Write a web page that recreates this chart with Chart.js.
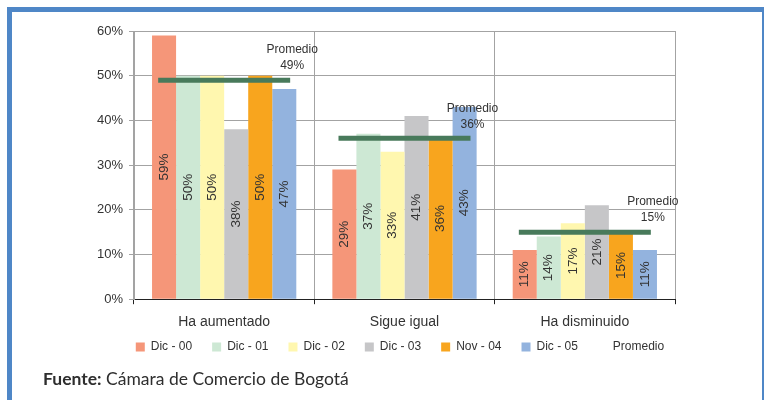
<!DOCTYPE html>
<html lang="es">
<head>
<meta charset="utf-8">
<title>Percepción de la situación económica</title>
<script src="https://cdn.jsdelivr.net/npm/chart.js@4.4.1/dist/chart.umd.min.js"></script>
<style>
    html, body {
        margin: 0;
        padding: 0;
        background: #ffffff;
        width: 764px;
        height: 400px;
        overflow: hidden;
        position: relative;
    }
    .frame {
        position: absolute;
        left: 7px;
        top: 7px;
        width: 760px;
        height: 420px;
        box-sizing: border-box;
        border: 5px solid #4f87c7;
    }
    .chart-box {
        position: absolute;
        left: 40px;
        top: 16px;
        width: 720px;
        height: 367px;
    }
    .source {
        position: absolute;
        left: 43px;
        top: 369px;
        font-family: Lato, "Open Sans", sans-serif;
        font-size: 17.5px;
        line-height: 20px;
        color: #2e2e2e;
        white-space: nowrap;
    }
    .source b { font-weight: 700; }
</style>
</head>
<body>
<div class="frame"></div>
<div class="chart-box"><canvas id="surveyChart"></canvas></div>
<div class="source"><b>Fuente:</b> Cámara de Comercio de Bogotá</div>

<script>
// --- DATA ---
const categories = ['Ha aumentado', 'Sigue igual', 'Ha disminuido'];
const dic00 = [59, 29, 11];
const dic01 = [50, 37, 14];
const dic02 = [50, 33, 17];
const dic03 = [38, 41, 21];
const nov04 = [50, 36, 15];
const dic05 = [47, 43, 11];
const promedio = [49, 36, 15];

const FONT = '"Liberation Sans", Arial, sans-serif';
const TEXT = '#333333';
const GRID = '#a3a3a3';
const AVG_HALF = 66;

// value labels written vertically in the middle of each bar
const barValueLabels = {
    id: 'barValueLabels',
    afterDatasetsDraw(chart) {
        const ctx = chart.ctx;
        ctx.save();
        ctx.font = '13.5px ' + FONT;
        ctx.fillStyle = TEXT;
        ctx.textAlign = 'center';
        ctx.textBaseline = 'middle';
        chart.data.datasets.forEach((ds, i) => {
            if (ds.type === 'line') return;
            chart.getDatasetMeta(i).data.forEach((bar, j) => {
                ctx.save();
                ctx.translate(bar.x, (bar.y + bar.base) / 2);
                ctx.rotate(-Math.PI / 2);
                ctx.fillText(ds.data[j] + '%', 0, 0);
                ctx.restore();
            });
        });
        ctx.restore();
    }
};

// "Promedio xx%" caption above the right end of each average bar
const averageCaptions = {
    id: 'averageCaptions',
    afterDatasetsDraw(chart) {
        const idx = chart.data.datasets.findIndex(d => d.type === 'line');
        const ctx = chart.ctx;
        ctx.save();
        ctx.font = '12px ' + FONT;
        ctx.fillStyle = TEXT;
        ctx.textAlign = 'center';
        ctx.textBaseline = 'middle';
        chart.getDatasetMeta(idx).data.forEach((pt, j) => {
            const x = pt.x + AVG_HALF + 2;
            ctx.fillText('Promedio', x, pt.y - 30);
            ctx.fillText(promedio[j] + '%', x, pt.y - 14);
        });
        ctx.restore();
    }
};

// keep the legend centred on the canvas and a bit closer to the axis
const legendPlacement = {
    id: 'legendPlacement',
    afterLayout(chart) {
        const lg = chart.legend;
        const dx = chart.width / 2 - (lg.left + lg.right) / 2;
        lg.left += dx;
        lg.right += dx;
        lg.top -= 20;
        lg.bottom -= 20;
    }
};

function barSet(label, data, color) {
    return { label: label, data: data, backgroundColor: color, borderWidth: 0 };
}

const surveyChart = new Chart(document.getElementById('surveyChart'), {
    type: 'bar',
    data: {
        labels: categories,
        datasets: [
            barSet('Dic - 00', dic00, '#f59679'),
            barSet('Dic - 01', dic01, '#cde8d4'),
            barSet('Dic - 02', dic02, '#fff7af'),
            barSet('Dic - 03', dic03, '#c6c6c8'),
            barSet('Nov - 04', nov04, '#f8a51e'),
            barSet('Dic - 05', dic05, '#93b3de'),
            {
                type: 'line',
                label: 'Promedio',
                data: promedio,
                order: -1,
                showLine: false,
                pointStyle: 'line',
                pointRadius: AVG_HALF,
                pointHoverRadius: AVG_HALF,
                borderWidth: 5,
                pointBorderWidth: 5,
                borderColor: '#487a5b',
                backgroundColor: '#487a5b'
            }
        ]
    },
    options: {
        responsive: true,
        maintainAspectRatio: false,
        animation: false,
        events: [],
        datasets: {
            bar: { categoryPercentage: 0.8, barPercentage: 1.0 }
        },
        layout: {
            autoPadding: false,
            padding: { top: 15, right: 85, bottom: 0, left: 0 }
        },
        plugins: {
            tooltip: { enabled: false },
            legend: {
                position: 'bottom',
                labels: {
                    boxWidth: 9,
                    boxHeight: 9,
                    padding: 20,
                    color: TEXT,
                    font: { family: FONT, size: 12 },
                    sort: (a, b) => a.datasetIndex - b.datasetIndex,
                    generateLabels(chart) {
                        const items = Chart.defaults.plugins.legend.labels.generateLabels(chart);
                        items.forEach(it => {
                            it.lineWidth = 0;
                            if (it.text === 'Promedio') {
                                it.fillStyle = 'rgba(0,0,0,0)';
                                it.strokeStyle = 'rgba(0,0,0,0)';
                            }
                        });
                        return items;
                    }
                }
            }
        },
        scales: {
            x: {
                offset: true,
                grid: {
                    offset: true,
                    color: GRID,
                    tickColor: '#222222',
                    tickLength: 5
                },
                border: { color: '#222222', width: 1 },
                ticks: { color: TEXT, padding: 10, font: { family: FONT, size: 14 } }
            },
            y: {
                min: 0,
                max: 60,
                grid: { color: GRID, tickColor: GRID, tickLength: 5 },
                border: { color: GRID, width: 1 },
                ticks: {
                    stepSize: 10,
                    color: TEXT,
                    padding: 6,
                    font: { family: FONT, size: 13 },
                    callback: v => v + '%'
                },
                afterFit(scale) { scale.width = 94; }
            }
        }
    },
    plugins: [barValueLabels, averageCaptions, legendPlacement]
});
</script>
</body>
</html>
